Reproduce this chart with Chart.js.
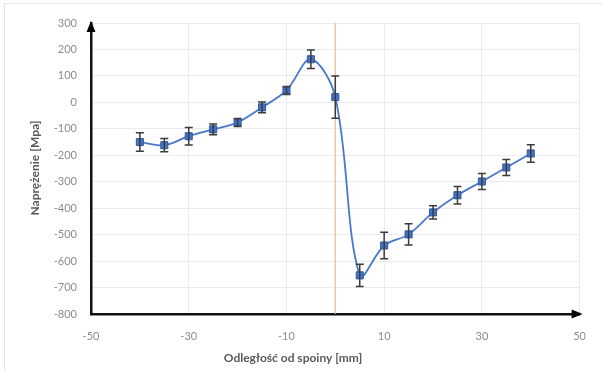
<!DOCTYPE html>
<html>
<head>
<meta charset="utf-8">
<script src="https://cdn.jsdelivr.net/npm/chart.js@4/dist/chart.umd.min.js"></script>
<style>
  html, body { margin: 0; padding: 0; background: #fff; }
  #wrap { position: relative; width: 602px; height: 371px; overflow: hidden; }
  #frame { position: absolute; left: 4px; top: 3px; width: 700px; height: 500px; border: 1px solid #e3e3e3; }
  canvas { position: absolute; left: 0; top: 0; }
</style>
</head>
<body>
<div id="wrap">
  <div id="frame"></div>
  <canvas id="myChart" width="602" height="371"></canvas>
</div>
<script>
// odległość od spoiny [mm]
var odleglosc = [-40, -35, -30, -25, -20, -15, -10, -5, 0, 5, 10, 15, 20, 25, 30, 35, 40];
// naprężenie [MPa]
var naprezenie = [-150, -162, -128, -102, -76, -19, 45, 163, 20, -654, -541, -499, -416, -351, -299, -246, -193];
// odchylenie (słupki błędów)
var blad = [35, 25, 33, 20, 15, 20, 15, 35, 80, 42, 50, 40, 25, 33, 30, 30, 33];

var xTicks = [-50, -30, -10, 10, 30, 50];
var yMin = -800, yMax = 300, yStep = 100;
var linia0 = 0; // oś spoiny

var punkty = [];
for (var i = 0; i < odleglosc.length; i++) {
    punkty.push({x: odleglosc[i], y: naprezenie[i]});
}

var font = 'Lato, "Open Sans", sans-serif';

// słupki błędów, strzałki osi i tytuły osi
var dodatki = {
    id: 'dodatki',
    afterDatasetsDraw: function(chart) {
        var c = chart.ctx;
        var xs = chart.scales.x, ys = chart.scales.y;
        var a = chart.chartArea;
        c.save();
        c.strokeStyle = '#3b3b3b';
        c.lineWidth = 1.5;
        for (var i = 0; i < odleglosc.length; i++) {
            var px = xs.getPixelForValue(odleglosc[i]);
            var top = ys.getPixelForValue(naprezenie[i] + blad[i]);
            var bot = ys.getPixelForValue(naprezenie[i] - blad[i]);
            c.beginPath();
            c.moveTo(px, top); c.lineTo(px, bot);
            c.moveTo(px - 4, top); c.lineTo(px + 4, top);
            c.moveTo(px - 4, bot); c.lineTo(px + 4, bot);
            c.stroke();
        }
        // strzałki
        c.fillStyle = '#000';
        c.beginPath();
        c.moveTo(a.left, a.top - 2);
        c.lineTo(a.left - 4.5, a.top + 9);
        c.lineTo(a.left + 4.5, a.top + 9);
        c.closePath();
        c.fill();
        c.beginPath();
        c.moveTo(a.right + 3, a.bottom);
        c.lineTo(a.right - 8, a.bottom - 4.5);
        c.lineTo(a.right - 8, a.bottom + 4.5);
        c.closePath();
        c.fill();
        // tytuły
        c.fillStyle = '#595959';
        c.font = 'bold 12px ' + font;
        c.textAlign = 'center';
        c.textBaseline = 'middle';
        c.fillText('Odległość od spoiny [mm]', 293, 358);
        c.translate(35, 168);
        c.rotate(-Math.PI / 2);
        c.fillText('Naprężenie [Mpa]', 0, 0);
        c.restore();
    }
};

var ctx = document.getElementById('myChart').getContext('2d');
var myChart = new Chart(ctx, {
    type: 'line',
    data: {
        datasets: [
            {
                label: 'Naprężenie',
                data: punkty,
                borderColor: '#4a78c8',
                borderWidth: 1.8,
                backgroundColor: '#4472c4',
                pointStyle: 'rect',
                pointRadius: 5,
                pointBorderColor: '#34589a',
                pointBorderWidth: 1,
                tension: 0.35,
                order: 1
            },
            {
                label: 'spoina',
                data: [{x: linia0, y: yMax}, {x: linia0, y: yMin}],
                borderColor: '#f5b88a',
                borderWidth: 1.2,
                pointRadius: 0,
                order: 2
            }
        ]
    },
    options: {
        responsive: false,
        animation: false,
        layout: { padding: { left: 0, top: 23, right: 21, bottom: 0 } },
        plugins: { legend: { display: false }, tooltip: { enabled: false } },
        scales: {
            x: {
                type: 'linear',
                min: -50, max: 50,
                afterBuildTicks: function(s) { s.ticks = xTicks.map(function(v) { return {value: v}; }); },
                afterFit: function(s) { s.height = 57; },
                grid: { color: '#e8ecf2', drawTicks: false },
                border: { color: '#111', width: 2.5 },
                ticks: { color: '#8c8c8c', font: { family: font, size: 11 }, padding: 16 }
            },
            y: {
                min: yMin, max: yMax,
                ticks: { stepSize: yStep, color: '#8c8c8c', font: { family: font, size: 11 }, padding: 14 },
                afterFit: function(s) { s.width = 91; },
                grid: { color: '#e8ecf2', drawTicks: false },
                border: { color: '#111', width: 2.5 }
            }
        }
    },
    plugins: [dodatki]
});
</script>
</body>
</html>
